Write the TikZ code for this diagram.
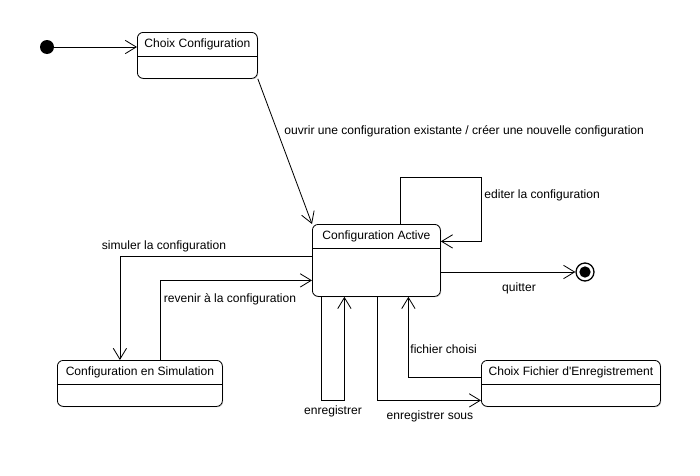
\documentclass[tikz,border=0pt]{standalone}
\usepackage{fontspec}
\setmainfont{Liberation Sans}[Ligatures=TeXOff]
\usetikzlibrary{arrows.meta, positioning, calc, shadows}
\newcommand{\uitext}{\fontsize{10.3}{12}\selectfont}
\tikzset{
  statebox/.style={draw, line width=0.7pt, rounded corners=5pt, fill=white, anchor=north west, inner sep=0pt,
    drop shadow={shadow xshift=0.7pt, shadow yshift=-0.7pt, fill=black!35, opacity=0.6}},
  trans/.style={draw, line width=0.7pt, -{Straight Barb[length=0.33cm, width=0.4cm]}},
  lbl/.style={font=\uitext, inner sep=1pt}
}
% state with a title band on top
\newcommand{\statenode}[6]{%
  \node[statebox, minimum width=#4*0.03cm, minimum height=#5*0.03cm] (#1) at (#2,#3) {};
  \node[lbl] (#1-title) at ($(#1.north)+(0,12.5)$) {#6};
  \draw[line width=0.7pt] ($(#1.north west)+(0,24.5)$) -- ($(#1.north east)+(0,24.5)$);
}

\begin{document}
\begin{tikzpicture}[x=0.03cm,y=-0.03cm]
\useasboundingbox (0,0) rectangle (700,475);

\statenode{choix}{137}{32}{120}{46}{Choix Configuration}
\statenode{active}{312}{224}{128}{72}{Configuration Active}
\statenode{simul}{57}{360}{165}{46}{Configuration en Simulation}
\statenode{fichier}{481}{360}{179}{46}{Choix Fichier d'Enregistrement}

\node[circle, fill, minimum size=0.42cm, inner sep=0pt] (init) at (47,47) {};
\node[circle, draw, line width=1.1pt, minimum size=0.54cm, inner sep=0pt] (final) at (585,272) {};
\node[circle, fill, minimum size=0.34cm, inner sep=0pt] (final-dot) at (final) {};

\draw[trans] (init.east) -- (init.east -| choix.west);
\draw[trans] (choix.south east) -- (active.north west);
\draw[trans] ($(active.north)+(24,0)$) -- ++(0,-47) -- ++(81,0) |- ($(active.east)+(0,-19)$);
\draw[trans] (final.west -| active.east) -- (final.west);
\draw[trans] ($(active.west)+(0,-4)$) -| ($(simul.north)+(-20,0)$);
\draw[trans] ($(simul.north)+(20,0)$) |- ($(active.west)+(0,20)$);
\draw[trans] ($(active.south)+(-55,0)$) -- ++(0,104) -| ($(active.south)+(-32,0)$);
\draw[trans] ($(active.south)+(1,0)$) |- ($(fichier.west)+(0,17)$);
\draw[trans] ($(fichier.west)+(0,-6)$) -| ($(active.south)+(32,0)$);

\node[lbl, anchor=west] (l-ouvrir) at (283,131) {ouvrir une configuration existante / créer une nouvelle configuration};
\node[lbl, anchor=west] (l-editer) at (483,195) {editer la configuration};
\node[lbl] (l-quitter) at (519,288) {quitter};
\node[lbl] (l-simuler) at (164,246) {simuler la configuration};
\node[lbl] (l-revenir) at (230,299) {revenir à la configuration};
\node[lbl] (l-enreg) at (333,411) {enregistrer};
\node[lbl] (l-sous) at (430,416) {enregistrer sous};
\node[lbl, anchor=west] (l-choisi) at (409,349) {fichier choisi};
\end{tikzpicture}
\end{document}
